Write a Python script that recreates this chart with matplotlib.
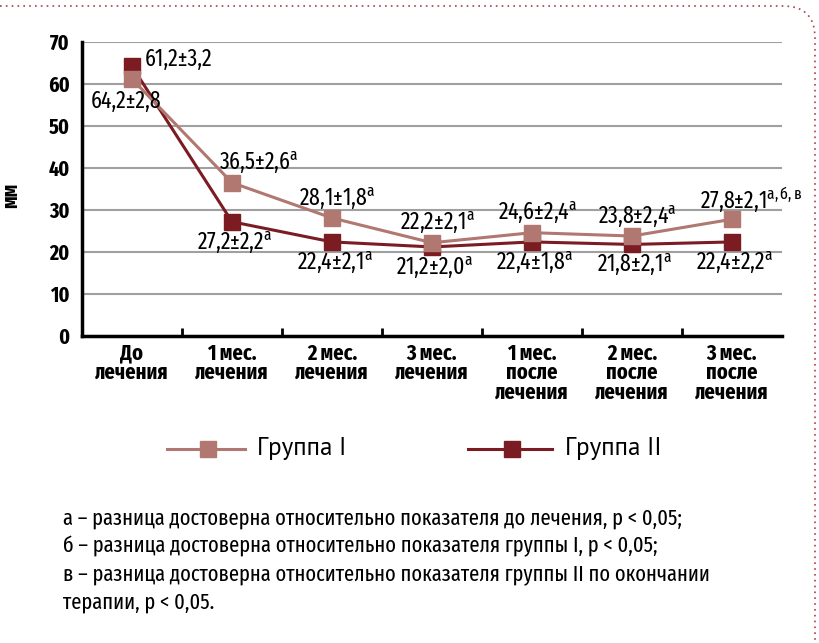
import matplotlib
matplotlib.use("Agg")
import matplotlib.pyplot as plt
import numpy as np
from matplotlib.path import Path
from matplotlib.patches import PathPatch
from matplotlib.lines import Line2D

FONT = 'Fira Sans Extra Condensed'
plt.rcParams['font.family'] = [FONT, 'DejaVu Sans']
plt.rcParams['mathtext.fontset'] = 'custom'
plt.rcParams['mathtext.rm'] = FONT
plt.rcParams['mathtext.it'] = FONT
plt.rcParams['mathtext.bf'] = FONT + ':bold'

categories = ["До\nлечения", "1 мес.\nлечения", "2 мес.\nлечения", "3 мес.\nлечения",
              "1 мес.\nпосле\nлечения", "2 мес.\nпосле\nлечения", "3 мес.\nпосле\nлечения"]
group1 = [61.2, 36.5, 28.1, 22.2, 24.6, 23.8, 27.8]
group2 = [64.2, 27.2, 22.4, 21.2, 22.4, 21.8, 22.4]
labels1 = ["64,2±2,8", "36,5±2,6", "28,1±1,8", "22,2±2,1", "24,6±2,4", "23,8±2,4", "27,8±2,1"]
sup1 = ["", "а", "а", "а", "а", "а", "а,б,в"]
labels2 = ["61,2±3,2", "27,2±2,2", "22,4±2,1", "21,2±2,0", "22,4±1,8", "21,8±2,1", "22,4±2,2"]
sup2 = ["", "а", "а", "а", "а", "а", "а"]
yticks = [0, 10, 20, 30, 40, 50, 60, 70]
footnotes = ["а – разница достоверна относительно показателя до лечения, р < 0,05;",
             "б – разница достоверна относительно показателя группы I, р < 0,05;",
             "в – разница достоверна относительно показателя группы II по окончании",
             "терапии, р < 0,05."]

c1 = '#B07870'
c2 = '#7A1C22'

W, H = 819, 643
fig = plt.figure(figsize=(W/100, H/100), dpi=100)
ax = fig.add_axes([82/W, 1-336/H, 700/W, 294/H])

x = np.arange(len(categories))
ax.plot(x, group1, color=c1, lw=2.2, marker='s', ms=12, zorder=3)
ax.plot(x, group2, color=c2, lw=2.2, marker='s', ms=12, zorder=2)

ax.set_xlim(-0.5, 6.5)
ax.set_ylim(0, 70)
ax.set_yticks(yticks)
ax.set_yticklabels([str(v) for v in yticks], fontsize=15.5, fontweight='bold')
ax.tick_params(axis='y', length=0, pad=9)
ax.set_xticks(x)
ax.set_xticklabels(categories, fontsize=16, fontweight='bold', linespacing=0.88)
ax.tick_params(axis='x', length=0, pad=5)
ax.set_xticks(np.arange(0.5, 6.5, 1.0), minor=True)
ax.tick_params(axis='x', which='minor', direction='in', length=6, width=2, color='black')
ax.grid(axis='y', color='#A0A0A0', lw=1.5)
ax.set_axisbelow(True)
for s in ['top', 'right']:
    ax.spines[s].set_visible(False)
for s in ['left', 'bottom']:
    ax.spines[s].set_linewidth(2.5)
ax.set_ylabel("мм", fontsize=16, fontweight='bold')
ax.yaxis.set_label_coords((22 - 82) / 700, (336 - 195) / 294)

def lab(t, s):
    if s:
        return t + r"$^{\mathrm{" + s + "}}$"
    return t

fs = 17
# first point labels (special placement)
ax.annotate(labels2[0], (0, group2[0]), xytext=(9, 5), textcoords='offset points',
            ha='left', va='center', fontsize=fs)
ax.annotate(labels1[0], (0, group1[0]), xytext=(-4, -16), textcoords='offset points',
            ha='center', va='center', fontsize=fs)
for i in range(1, len(categories)):
    dx1 = 19 if i == 1 else (4 if i < 6 else 14)
    ax.annotate(lab(labels1[i], sup1[i]), (i, group1[i]), xytext=(dx1, 14),
                textcoords='offset points', ha='center', va='center', fontsize=fs)
    ax.annotate(lab(labels2[i], sup2[i]), (i, group2[i]), xytext=(2, -15),
                textcoords='offset points', ha='center', va='center', fontsize=fs)

# legend
ly = 1 - 449/H
fig.add_artist(Line2D([167/W, 245/W], [ly, ly], color=c1, lw=2.2))
fig.add_artist(Line2D([208/W], [ly], color=c1, marker='s', ms=12))
fig.text(257/W, ly, "Группа I", fontsize=18, va='center', ha='left', family=['PT Sans', 'DejaVu Sans'])
fig.add_artist(Line2D([468/W, 552/W], [ly, ly], color=c2, lw=2.2))
fig.add_artist(Line2D([512/W], [ly], color=c2, marker='s', ms=12))
fig.text(565/W, ly, "Группа II", fontsize=18, va='center', ha='left', family=['PT Sans', 'DejaVu Sans'])

# footnotes
for t, yy in zip(footnotes, [518, 546, 574, 602]):
    fig.text(63/W, 1 - yy/H, t, fontsize=16, va='center', ha='left')

# dotted border
r = 32
verts = [(0, 6), (815 - r, 6), (815, 6), (815, 6 + r), (815, 643)]
codes = [Path.MOVETO, Path.LINETO, Path.CURVE3, Path.CURVE3, Path.LINETO]
verts = [(vx / W, 1 - vy / H) for vx, vy in verts]
fig.add_artist(PathPatch(Path(verts, codes), transform=fig.transFigure, fill=False,
                         edgecolor='#A8404A', lw=1.2, linestyle=(0, (1, 2.5))))

fig.savefig("out.png", dpi=100)
